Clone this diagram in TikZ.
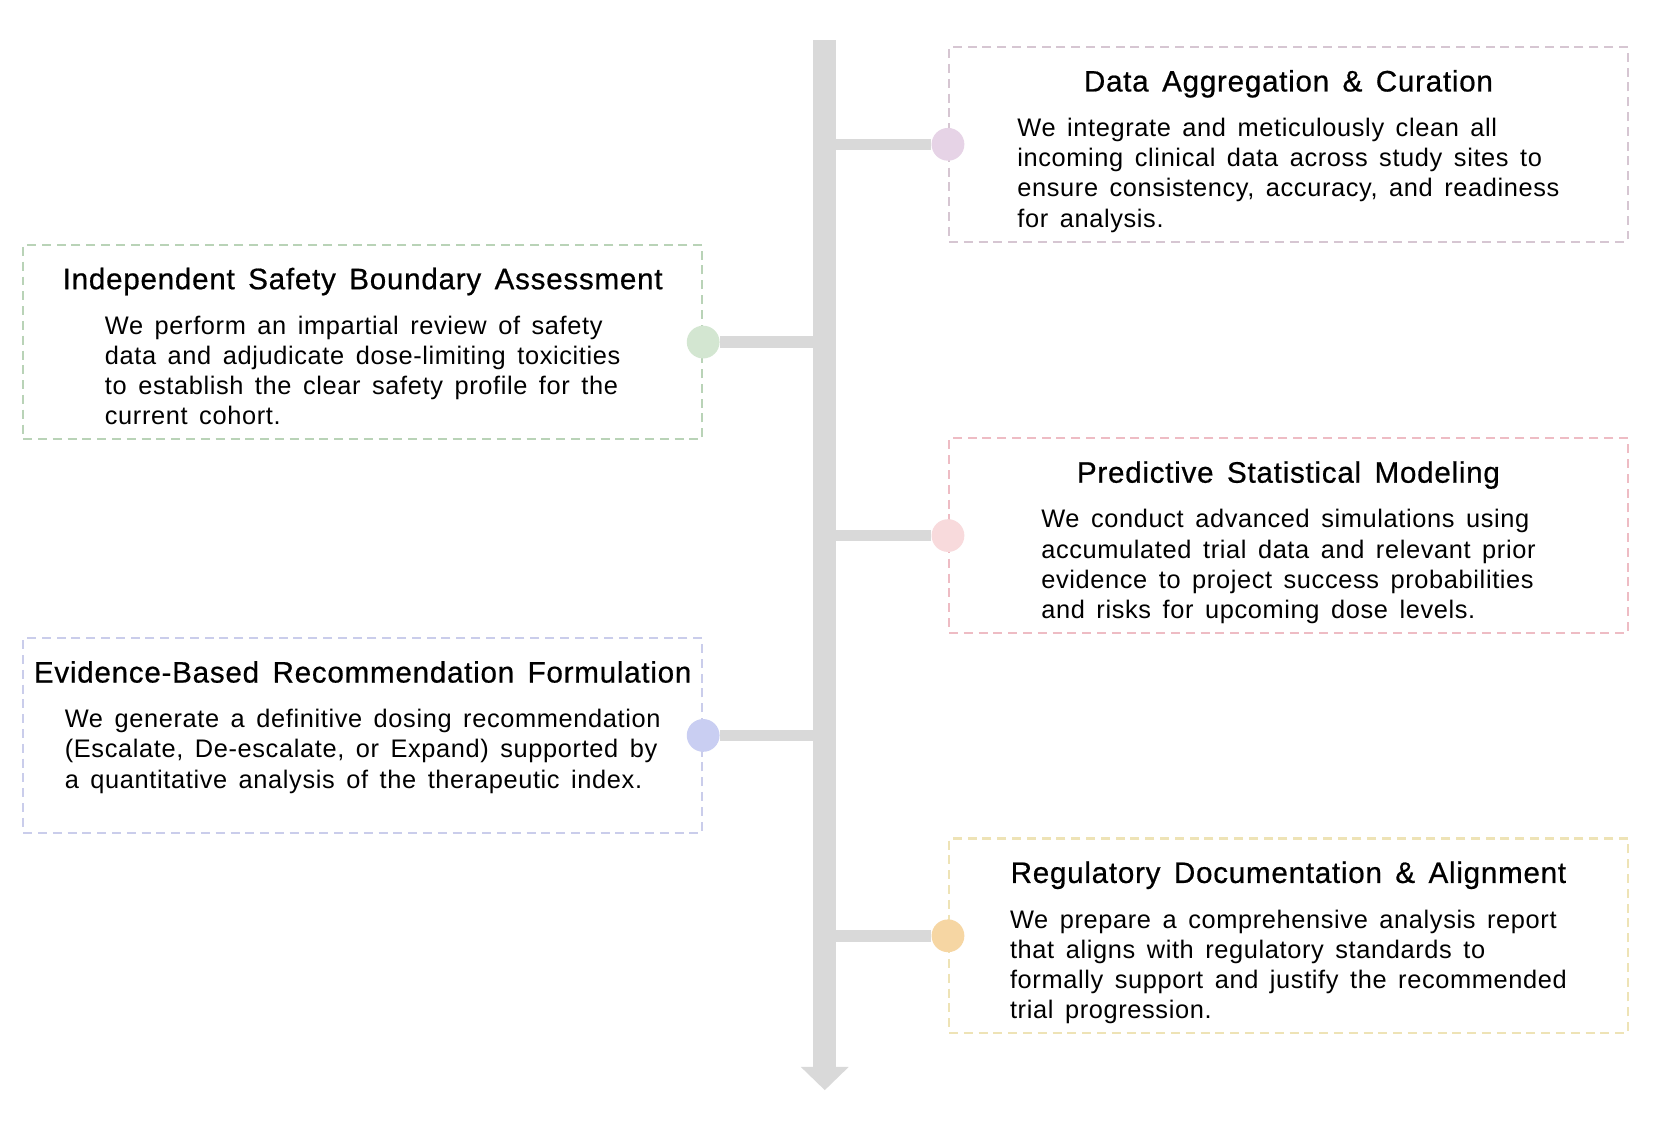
\documentclass[tikz,border=0pt]{standalone}
\usepackage{fontspec}
\setmainfont[LetterSpace=2.5,WordSpace=1.5]{Liberation Sans}
\newfontfamily\titlefont[LetterSpace=2.5,WordSpace=1.5,FakeBold=0.6]{Liberation Sans}
\usetikzlibrary{positioning,arrows.meta}
\definecolor{axisgray}{HTML}{D9D9D9}
\definecolor{dataDot}{HTML}{E6D3E6}
\definecolor{dataLine}{HTML}{D6C6D2}
\definecolor{safeDot}{HTML}{D3E6D1}
\definecolor{safeLine}{HTML}{B9D3B7}
\definecolor{predDot}{HTML}{F8DADC}
\definecolor{predLine}{HTML}{EEBCC4}
\definecolor{evidDot}{HTML}{C9CEF2}
\definecolor{evidLine}{HTML}{CACDEB}
\definecolor{reguDot}{HTML}{F6D6A3}
\definecolor{reguLine}{HTML}{EEE3B6}
\tikzstyle{box}=[draw, line width=1pt, dash pattern=on 4.25pt off 2.75pt, fill=white, minimum width=321pt, minimum height=92pt, inner sep=0pt]
\tikzstyle{dot}=[circle, minimum size=15.5pt, inner sep=0pt]
\tikzstyle{branch}=[line width=5.5pt, draw=axisgray]
\tikzstyle{ttl}=[font=\titlefont\fontsize{14}{16}\selectfont, anchor=base, inner sep=0pt, yshift=-21.5pt]
\tikzstyle{txt}=[font=\fontsize{12}{14.25}\selectfont, align=left, anchor=north, inner sep=0pt, yshift=-34pt]

\begin{document}
\begin{tikzpicture}[x=0.5pt,y=-0.5pt,>=latex]
\useasboundingbox (0,0) rectangle (1568,1064);
\coordinate (top) at (780,38);
\coordinate (bottom) at (780,1031);

% boxes
\node[box, draw=dataLine] at (1218.5,136.5) (data) {};
\node[box, draw=safeLine] at (343,323.5) (safety) {};
\node[box, draw=predLine] at (1218.5,506.5) (pred) {};
\node[box, draw=evidLine] at (343,695.5) (evid) {};
\node[box, draw=reguLine] at (1218.5,885) (regu) {};

\node[ttl] at (data.north) (datat) {Data Aggregation \& Curation};
\node[txt] at (data.north) (datab) {We integrate and meticulously clean all\\incoming clinical data across study sites to\\ensure consistency, accuracy, and readiness\\for analysis.};

\node[ttl] at (safety.north) (safetyt) {Independent Safety Boundary Assessment};
\node[txt] at (safety.north) (safetyb) {We perform an impartial review of safety\\data and adjudicate dose-limiting toxicities\\to establish the clear safety profile for the\\current cohort.};

\node[ttl] at (pred.north) (predt) {Predictive Statistical Modeling};
\node[txt] at (pred.north) (predb) {We conduct advanced simulations using\\accumulated trial data and relevant prior\\evidence to project success probabilities\\and risks for upcoming dose levels.};

\node[ttl] at (evid.north) (evidt) {Evidence-Based Recommendation Formulation};
\node[txt] at (evid.north) (evidb) {We generate a definitive dosing recommendation\\(Escalate, De-escalate, or Expand) supported by\\a quantitative analysis of the therapeutic index.};

\node[ttl] at (regu.north) (regut) {Regulatory Documentation \& Alignment};
\node[txt] at (regu.north) (regub) {We prepare a comprehensive analysis report\\that aligns with regulatory standards to\\formally support and justify the recommended\\trial progression.};

% dots on the box edges
\node[dot, fill=dataDot] at (data.west) (d1) {};
\node[dot, fill=safeDot] at (safety.east) (d2) {};
\node[dot, fill=predDot] at (pred.west) (d3) {};
\node[dot, fill=evidDot] at (evid.east) (d4) {};
\node[dot, fill=reguDot] at (regu.west) (d5) {};

\draw[branch] (d1.west) -- (d1.west -| top);
\draw[branch] (d2.east) -- (d2.east -| top);
\draw[branch] (d3.west) -- (d3.west -| top);
\draw[branch] (d4.east) -- (d4.east -| top);
\draw[branch] (d5.west) -- (d5.west -| top);

\draw[line width=11pt, draw=axisgray, -{Triangle[width=22pt,length=11pt]}] (top) -- (bottom);
\end{tikzpicture}
\end{document}
